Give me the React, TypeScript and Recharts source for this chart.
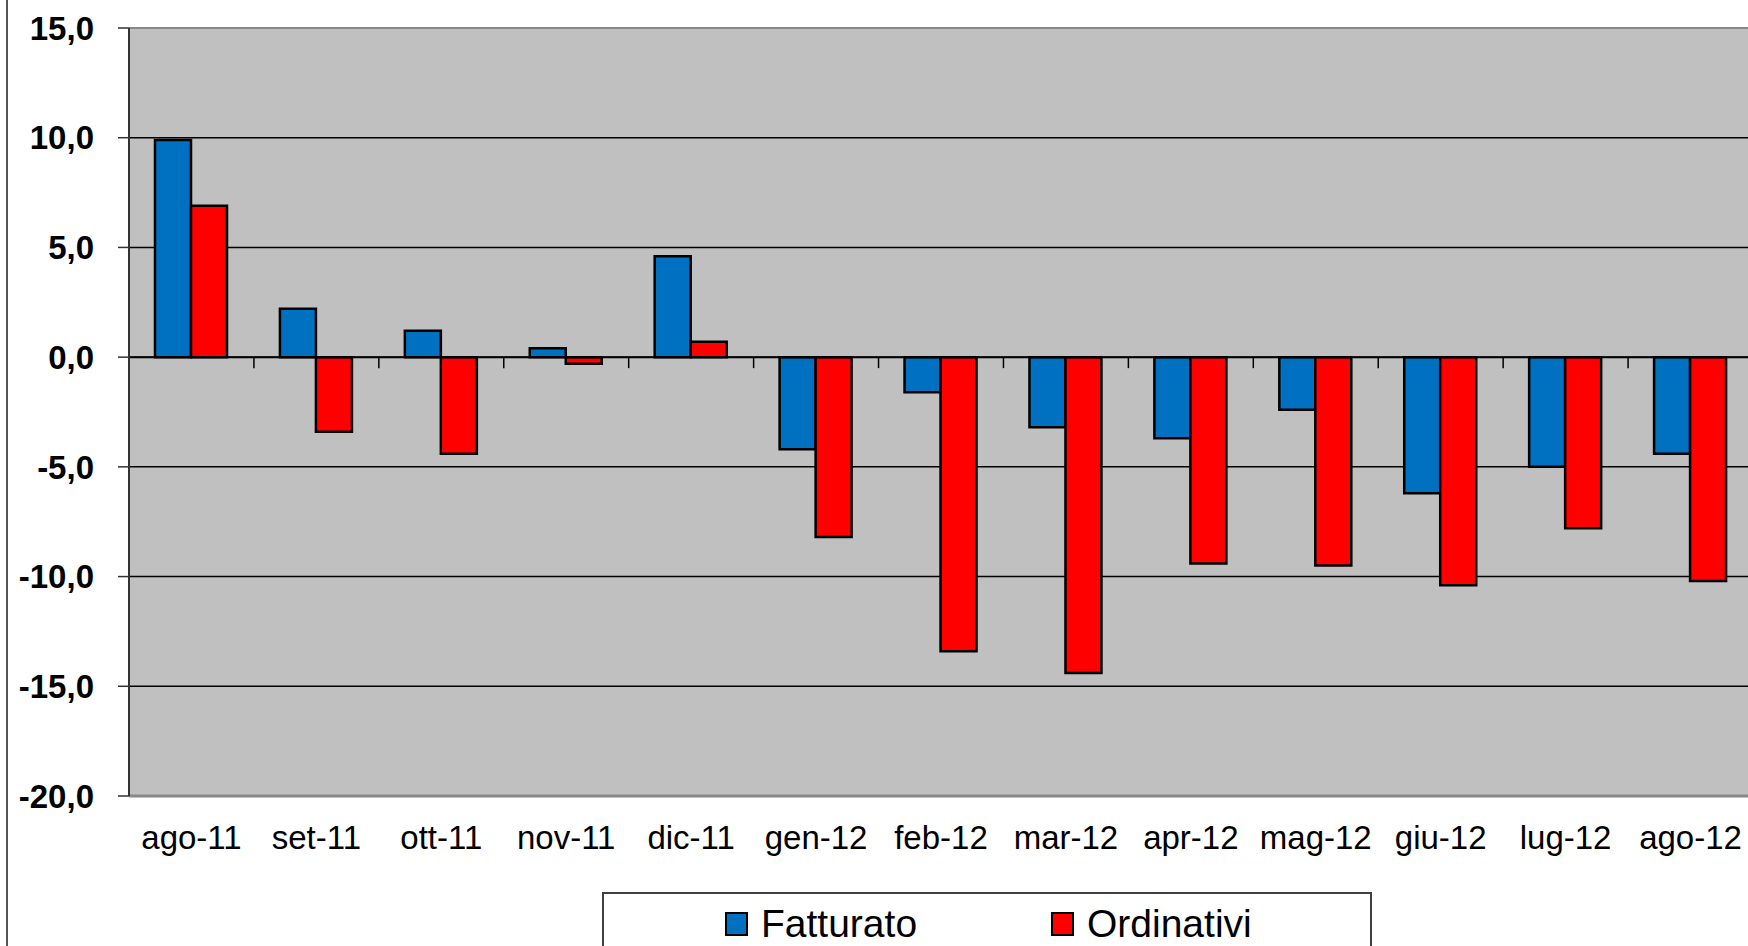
import React from 'react';
import {
  BarChart,
  Bar,
  XAxis,
  YAxis,
  CartesianGrid,
  ReferenceLine,
} from 'recharts';

const categories = [
  'ago-11', 'set-11', 'ott-11', 'nov-11', 'dic-11', 'gen-12', 'feb-12',
  'mar-12', 'apr-12', 'mag-12', 'giu-12', 'lug-12', 'ago-12',
];
const fatturato = [9.9, 2.2, 1.2, 0.4, 4.6, -4.2, -1.6, -3.2, -3.7, -2.4, -6.2, -5.0, -4.4];
const ordinativi = [6.9, -3.4, -4.4, -0.3, 0.7, -8.2, -13.4, -14.4, -9.4, -9.5, -10.4, -7.8, -10.2];
const yTicks = [-20, -15, -10, -5, 0, 5, 10, 15];

const seriesList = [
  { key: 'Fatturato', color: '#0070C0' },
  { key: 'Ordinativi', color: '#FF0000' },
];

const data = categories.map((month, i) => ({
  month,
  Fatturato: fatturato[i],
  Ordinativi: ordinativi[i],
}));

const FONT = '"Liberation Sans", Arial, sans-serif';

// chart geometry
const CHART_W = 1760;
const CHART_H = 946;
const Y_AXIS_W = 129;
const MARGIN = { top: 28, right: 7, left: 0, bottom: 90 };
const X_AXIS_H = 60;
const PLOT_W = CHART_W - MARGIN.left - MARGIN.right - Y_AXIS_W;
const PLOT_H = CHART_H - MARGIN.top - MARGIN.bottom - X_AXIS_H;
const Y_MIN = yTicks[0];
const Y_MAX = yTicks[yTicks.length - 1];
const ZERO_Y = MARGIN.top + (PLOT_H * (Y_MAX - 0)) / (Y_MAX - Y_MIN);

const fmt = (v: number) => v.toFixed(1).replace('.', ',');

function MonthTick(props: any) {
  const { x, y, payload } = props;
  const band = PLOT_W / categories.length;
  return (
    <g>
      <line
        x1={x + band / 2}
        x2={x + band / 2}
        y1={ZERO_Y}
        y2={ZERO_Y + 11}
        stroke="#000"
        strokeWidth={1.5}
      />
      <text
        x={x}
        y={y}
        dy={53}
        textAnchor="middle"
        fontSize={33}
        fontFamily={FONT}
        fill="#000"
      >
        {payload.value}
      </text>
    </g>
  );
}

export default function App() {
  return (
    <div
      style={{
        position: 'fixed',
        left: 0,
        top: 0,
        width: 1748,
        height: 946,
        overflow: 'hidden',
        background: '#fff',
      }}
    >
      {/* outer chart frame, only the left side is visible */}
      <div
        style={{
          position: 'absolute',
          left: 6,
          top: 0,
          width: 0,
          height: 946,
          borderLeft: '2px solid #555',
        }}
      />

      <div style={{ position: 'absolute', left: 0, top: 0 }}>
        <BarChart
          width={CHART_W}
          height={CHART_H}
          data={data}
          margin={MARGIN}
          barGap={0}
        >
          <CartesianGrid
            vertical={false}
            stroke="#000"
            strokeWidth={1.5}
            fill="#C0C0C0"
            fillOpacity={1}
          />
          <XAxis
            dataKey="month"
            height={X_AXIS_H}
            axisLine={false}
            tickLine={false}
            tickSize={0}
            tickMargin={0}
            interval={0}
            tick={<MonthTick />}
          />
          <YAxis
            width={Y_AXIS_W}
            domain={[Y_MIN, Y_MAX]}
            ticks={yTicks}
            tickFormatter={fmt}
            axisLine={{ stroke: '#333', strokeWidth: 2 }}
            tickLine={{ stroke: '#333', strokeWidth: 1.5 }}
            tickSize={11}
            tickMargin={24}
            tick={{ fontSize: 33, fontWeight: 'bold', fill: '#000', fontFamily: FONT }}
            interval={0}
          />
          <ReferenceLine y={Y_MAX} stroke="#888" strokeWidth={2} />
          <ReferenceLine y={Y_MIN} stroke="#888" strokeWidth={3} />
          {seriesList.map((s) => (
            <Bar
              key={s.key}
              dataKey={s.key}
              fill={s.color}
              stroke="#000"
              strokeWidth={2.5}
              barSize={36}
              isAnimationActive={false}
            />
          ))}
          <ReferenceLine y={0} stroke="#000" strokeWidth={2} />
        </BarChart>
      </div>

      {/* legend */}
      <div
        style={{
          position: 'absolute',
          left: 602,
          top: 892,
          width: 770,
          height: 90,
          border: '2px solid #404040',
          boxSizing: 'border-box',
          background: '#fff',
          fontFamily: FONT,
          fontSize: 39,
          color: '#000',
        }}
      >
        {seriesList.map((s, i) => (
          <div
            key={s.key}
            style={{
              position: 'absolute',
              left: i === 0 ? 121 : 447,
              top: 8,
              display: 'flex',
              alignItems: 'center',
              lineHeight: '44px',
            }}
          >
            <span
              style={{
                display: 'inline-block',
                width: 19,
                height: 20,
                background: s.color,
                border: '2px solid #000',
                marginRight: 13,
              }}
            />
            <span>{s.key}</span>
          </div>
        ))}
      </div>
    </div>
  );
}
